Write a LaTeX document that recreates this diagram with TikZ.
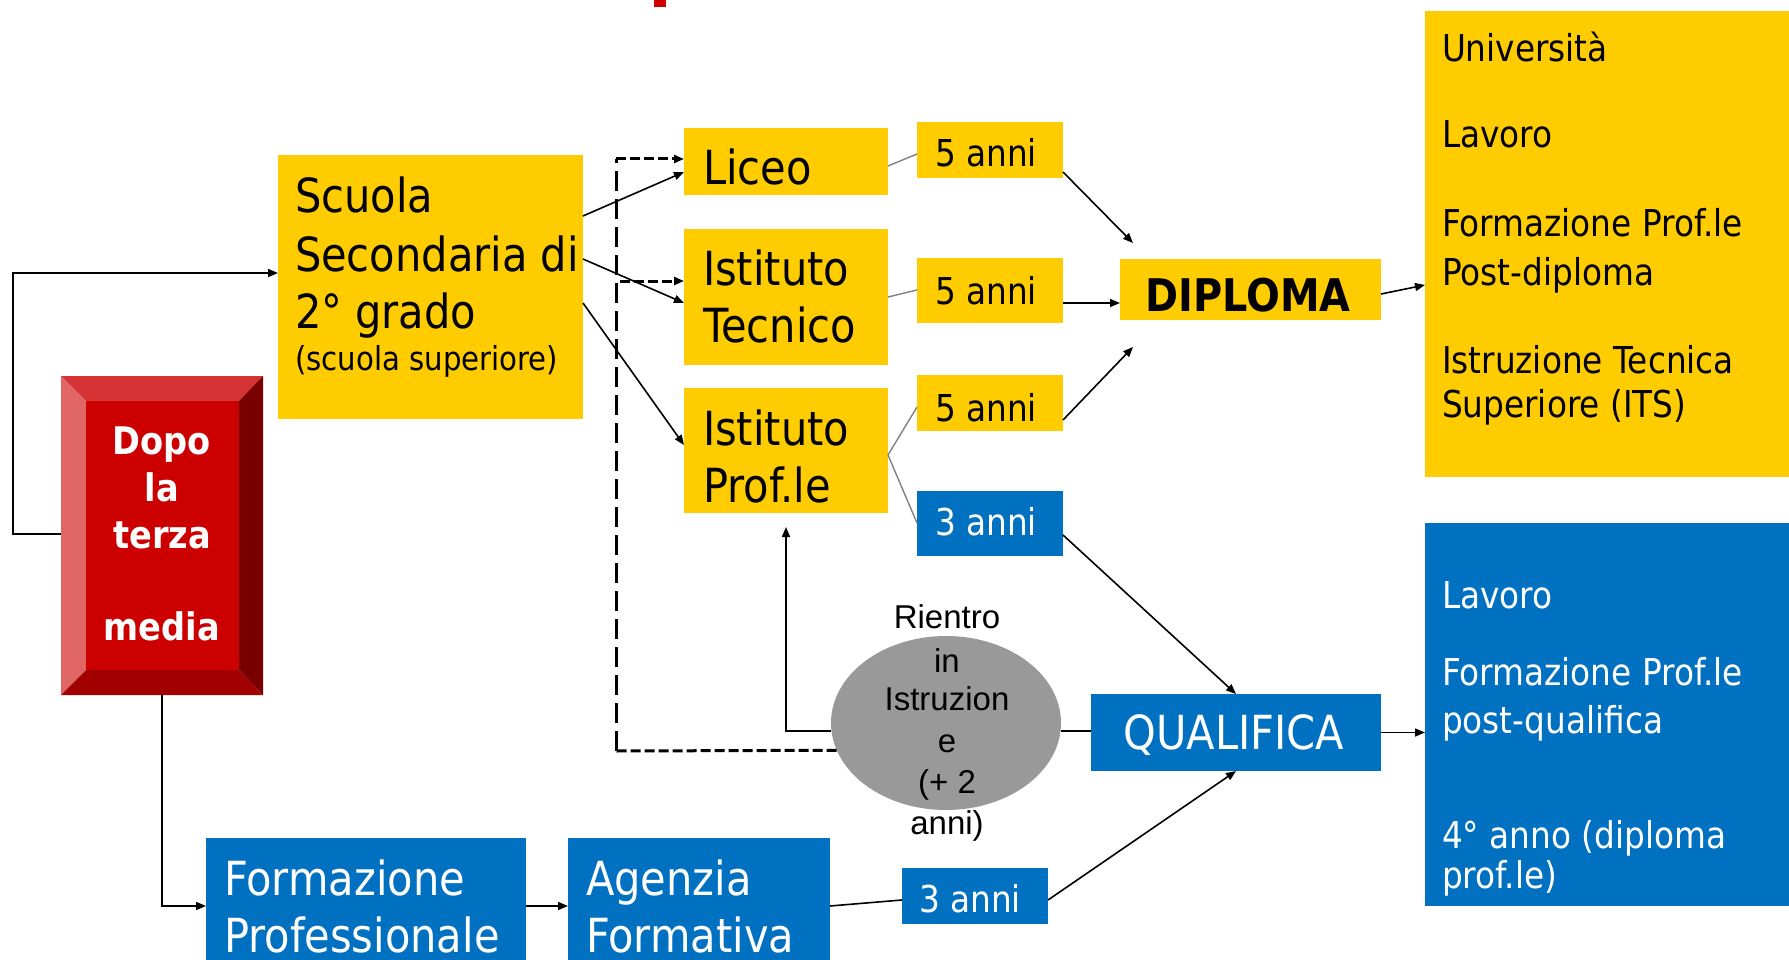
\documentclass[tikz,border=0pt]{standalone}
\usepackage{fontspec}
\setmainfont{DejaVu Sans}[FakeStretch=0.885]
\newfontfamily\arialfont{Liberation Sans}
\usetikzlibrary{arrows.meta,shapes.geometric}
\definecolor{gold}{HTML}{FFCC00}
\definecolor{blu}{HTML}{0070C0}
\definecolor{rface}{HTML}{CC0000}
\definecolor{rtop}{HTML}{D63434}
\definecolor{rleft}{HTML}{E06666}
\definecolor{rright}{HTML}{780000}
\definecolor{rbottom}{HTML}{A20000}
\definecolor{ellgray}{HTML}{999999}
\definecolor{linegray}{HTML}{808080}
\tikzset{
  box/.style={draw=none, inner sep=0pt, outer sep=0pt, anchor=north west},
  ybox/.style={box, fill=gold},
  bbox/.style={box, fill=blu},
  txt/.style={inner sep=0pt, outer sep=0pt, anchor=base west},
  big/.style={txt, font=\fontsize{47}{57}\selectfont},
  mid/.style={txt, font=\fontsize{37}{45}\selectfont},
  small/.style={txt, font=\fontsize{33}{40}\selectfont},
  redtxt/.style={inner sep=0pt, anchor=base, text=white, font=\fontsize{38}{44}\selectfont\bfseries},
  elltxt/.style={inner sep=0pt, anchor=base, font=\fontsize{33}{40}\selectfont\arialfont},
  arr/.style={line width=1.6pt, -{Triangle[length=10pt,width=8pt]}},
  plain/.style={line width=1.6pt},
  thin/.style={line width=1.4pt, draw=linegray},
  dashv/.style={line width=3pt, dash pattern=on 20pt off 8pt},
  dashh/.style={line width=3pt, dash pattern=on 10pt off 4pt},
}
\begin{document}
\begin{tikzpicture}[x=1pt,y=-1pt]
\useasboundingbox (0,0) rectangle (1789,960);

% title fragment
\fill[rface] (654,0) rectangle (666,7);

% boxes
\node[ybox, minimum width=305pt, minimum height=264pt] (scuola) at (278,155) {};
\node[ybox, minimum width=204pt, minimum height=67pt] (liceo) at (684,128) {};
\node[ybox, minimum width=204pt, minimum height=136pt] (tecnico) at (684,229) {};
\node[ybox, minimum width=204pt, minimum height=125pt] (prof) at (684,388) {};
\node[ybox, minimum width=146pt, minimum height=56pt] (anni1) at (917,122) {};
\node[ybox, minimum width=146pt, minimum height=65pt] (anni2) at (917,258) {};
\node[ybox, minimum width=146pt, minimum height=56pt] (anni3) at (917,375) {};
\node[bbox, minimum width=146pt, minimum height=65pt] (tre1) at (917,491) {};
\node[ybox, minimum width=261pt, minimum height=61pt] (diploma) at (1120,259) {};
\node[ybox, minimum width=370pt, minimum height=466pt] (esiti1) at (1425,11) {};
\node[bbox, minimum width=290pt, minimum height=77pt] (qualifica) at (1091,694) {};
\node[bbox, minimum width=370pt, minimum height=383pt] (esiti2) at (1425,523) {};
\node[bbox, minimum width=146pt, minimum height=56pt] (tre2) at (902,868) {};
\node[bbox, minimum width=320pt, minimum height=130pt] (formprof) at (206,838) {};
\node[bbox, minimum width=262pt, minimum height=130pt] (agenzia) at (568,838) {};

% bevelled red box
\node[box, minimum width=202pt, minimum height=319pt] (dopo) at (61,376) {};
\fill[rtop] (61,376) -- (263,376) -- (239,401) -- (86,401) -- cycle;
\fill[rleft] (61,376) -- (86,401) -- (86,670) -- (61,695) -- cycle;
\fill[rright] (263,376) -- (263,695) -- (239,670) -- (239,401) -- cycle;
\fill[rbottom] (61,695) -- (86,670) -- (239,670) -- (263,695) -- cycle;
\fill[rface] (86,401) rectangle (239,670);

% ellipse
\node[ellipse, fill=ellgray, minimum width=230pt, minimum height=174pt, inner sep=0pt] (rientro) at (946,723) {};

% texts
\node[big] (t1) at (295,213) {Scuola};
\node[big] (t2) at (295,272) {Secondaria di};
\node[big] (t3) at (295,328) {2° grado};
\node[small] (t4) at (295,370) {(scuola superiore)};
\node[big] (t5) at (703,185) {Liceo};
\node[big] (t6) at (703,286) {Istituto};
\node[big] (t7) at (703,342) {Tecnico};
\node[big] (t8) at (703,445) {Istituto};
\node[big] (t9) at (703,502) {Prof.le};
\node[mid] (t10) at (935,167) {5 anni};
\node[mid] (t11) at (935,304) {5 anni};
\node[mid] (t12) at (935,421) {5 anni};
\node[mid, text=white] (t13) at (935,535) {3 anni};
\node[mid, text=white] (t14) at (919,912) {3 anni};
\node[inner sep=0pt, anchor=base, font=\fontsize{45}{52}\selectfont\bfseries] (t15) at (1248,311) {DIPLOMA};
\node[inner sep=0pt, anchor=base, text=white, font=\fontsize{47}{57}\selectfont] (t16) at (1234,749) {QUALIFICA};
\node[mid] (t17) at (1442,62) {Università};
\node[mid] (t18) at (1442,148) {Lavoro};
\node[mid] (t19) at (1442,237) {Formazione Prof.le};
\node[mid] (t20) at (1442,285) {Post-diploma};
\node[mid] (t21) at (1442,373) {Istruzione Tecnica};
\node[mid] (t22) at (1442,417) {Superiore (ITS)};
\node[mid, text=white] (t23) at (1442,608) {Lavoro};
\node[mid, text=white] (t24) at (1442,685) {Formazione Prof.le};
\node[mid, text=white] (t25) at (1442,733) {post-qualifica};
\node[mid, text=white] (t26) at (1442,848) {4° anno (diploma};
\node[mid, text=white] (t27) at (1442,888) {prof.le)};
\node[big, text=white] (t28) at (224,895) {Formazione};
\node[big, text=white] (t29) at (224,952) {Professionale};
\node[big, text=white] (t30) at (586,895) {Agenzia};
\node[big, text=white] (t31) at (586,952) {Formativa};
\node[redtxt] (t32) at (162,454) {Dopo};
\node[redtxt] (t33) at (162,501) {la};
\node[redtxt] (t34) at (162,548) {terza};
\node[redtxt] (t35) at (162,640) {media};
\node[elltxt] (t36) at (947,628) {Rientro};
\node[elltxt] (t37) at (947,672) {in};
\node[elltxt] (t38) at (947,710) {Istruzion};
\node[elltxt] (t39) at (947,752) {e};
\node[elltxt] (t40) at (947,793) {(+ 2};
\node[elltxt] (t41) at (947,834) {anni)};

% coordinates for the dashed route
\coordinate (dcorner) at (616,751);
\coordinate (dtop) at (616,159);
\coordinate (dmid) at (620,281);

% dashed connectors
\draw[dashh] (rientro.194) -- (dcorner);
\draw[dashv] (dcorner) -- (dtop);
\draw[dashh, -{Triangle[length=10pt,width=8pt]}] (dtop) -- (dtop -| liceo.west);
\draw[dashh, -{Triangle[length=10pt,width=8pt]}] (dmid) -- (dmid -| tecnico.west);

% solid connectors
\draw[arr] ([yshift=-158pt]dopo.north west) -- ++(-48,0) |- ([yshift=-118pt]scuola.north west);
\draw[arr] (dopo.south) |- ([yshift=-68pt]formprof.north west);
\draw[arr] ([yshift=-68pt]formprof.north east) -- ([yshift=-68pt]agenzia.north west);
\draw[plain] ([yshift=-68pt]agenzia.north east) -- ([yshift=-32pt]tre2.north west);

\draw[arr] ([yshift=-61pt]scuola.north east) -- ([yshift=-44pt]liceo.north west);
\draw[arr] ([yshift=-104pt]scuola.north east) -- ([yshift=-74pt]tecnico.north west);
\draw[arr] ([yshift=-148pt]scuola.north east) -- ([yshift=-57pt]prof.north west);

\draw[thin] ([yshift=-38pt]liceo.north east) -- ([yshift=-32pt]anni1.north west);
\draw[thin] ([yshift=-68pt]tecnico.north east) -- ([yshift=-32pt]anni2.north west);
\draw[thin] ([yshift=-67pt]prof.north east) -- ([yshift=-32pt]anni3.north west);
\draw[thin] ([yshift=-67pt]prof.north east) -- ([yshift=-32pt]tre1.north west);

\draw[arr] ([yshift=-50pt]anni1.north east) -- ([xshift=13pt,yshift=16pt]diploma.north west);
\draw[arr] ([yshift=-45pt]anni2.north east) -- ([yshift=-44pt]diploma.north west);
\draw[arr] ([yshift=-45pt]anni3.north east) -- ([xshift=13pt,yshift=-27pt]diploma.south west);
\draw[arr] ([yshift=-35pt]diploma.north east) -- ([yshift=-274pt]esiti1.north west);

\draw[arr] ([yshift=-44pt]tre1.north east) -- (qualifica.north);
\draw[arr] ([yshift=-32pt]tre2.north east) -- (qualifica.south);
\draw[arr] (qualifica.east) -- (qualifica.east -| esiti2.west);
\draw[plain] (rientro.-4.5) -- (rientro.-4.5 -| qualifica.west);
\draw[arr] (rientro.184.5) -| ([yshift=-14pt]prof.south);
\end{tikzpicture}
\end{document}
